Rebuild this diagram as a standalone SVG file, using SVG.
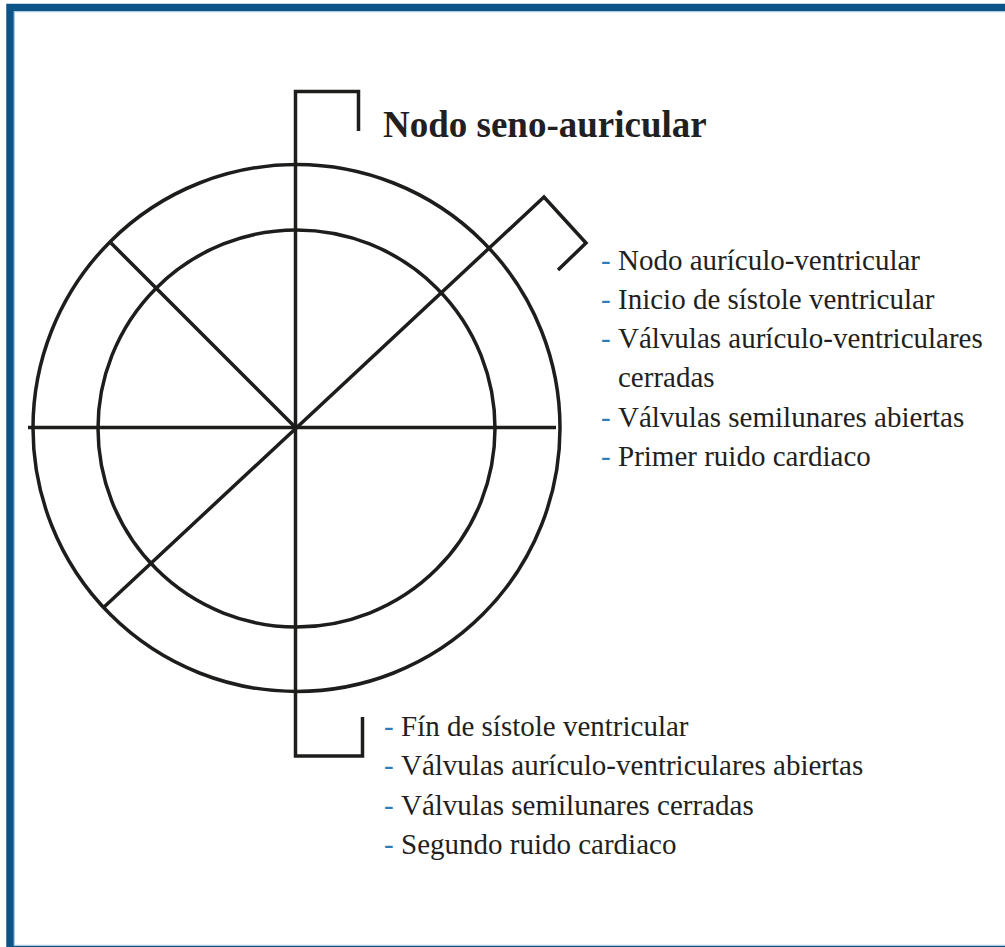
<svg xmlns="http://www.w3.org/2000/svg" width="1005" height="947" viewBox="0 0 1005 947">
<style>
.ln{fill:none;stroke:#1d1d1b;stroke-width:3.5;stroke-linecap:butt;stroke-linejoin:miter}
.t{font-family:"Liberation Serif","Times New Roman",serif;fill:#231f20;font-size:29px}
.d{font-family:"Liberation Serif","Times New Roman",serif;fill:#2f7cb6;font-size:29px}
.title{font-family:"Liberation Serif","Times New Roman",serif;fill:#231f20;font-size:37px;font-weight:bold}
</style>
<rect x="0" y="0" width="1005" height="947" fill="#ffffff"/>
<g id="frame">
<rect x="10" y="7.5" width="1100" height="942" fill="none" stroke="#0c5487" stroke-width="7.5"/>
<rect x="14.5" y="11.75" width="1100" height="933.5" fill="none" stroke="#a9c7de" stroke-width="1"/>
</g>
<g id="circles">
<circle cx="296.5" cy="428" r="263.5" class="ln"/>
<circle cx="296.5" cy="428.5" r="198.5" class="ln"/>
</g>
<g id="connectors">
<path class="ln" d="M28,427.5 H556"/>
<path class="ln" d="M358.5,131 V91.5 H295.5 V756 H362.5 V717"/>
<path class="ln" d="M111,243 L296,428"/>
<path class="ln" d="M103,608 L544,197 L586,243 L558,270"/>
</g>
<g id="node-sa">
<text class="title" x="383" y="137">Nodo seno-auricular</text>
</g>
<g id="node-av">
<text class="d" x="601" y="269.5">-</text><text class="t" x="618" y="269.5">Nodo aurículo-ventricular</text>
<text class="d" x="601" y="308.8">-</text><text class="t" x="618" y="308.8">Inicio de sístole ventricular</text>
<text class="d" x="601" y="348">-</text><text class="t" x="618" y="348">Válvulas aurículo-ventriculares</text>
<text class="t" x="618" y="387">cerradas</text>
<text class="d" x="601" y="426.5">-</text><text class="t" x="618" y="426.5">Válvulas semilunares abiertas</text>
<text class="d" x="601" y="466">-</text><text class="t" x="618" y="466">Primer ruido cardiaco</text>
</g>
<g id="node-fin">
<text class="d" x="384" y="735.7">-</text><text class="t" x="401" y="735.7">Fín de sístole ventricular</text>
<text class="d" x="384" y="775.3">-</text><text class="t" x="401" y="775.3">Válvulas aurículo-ventriculares abiertas</text>
<text class="d" x="384" y="814.5">-</text><text class="t" x="401" y="814.5">Válvulas semilunares cerradas</text>
<text class="d" x="384" y="853.5">-</text><text class="t" x="401" y="853.5">Segundo ruido cardiaco</text>
</g>
</svg>
